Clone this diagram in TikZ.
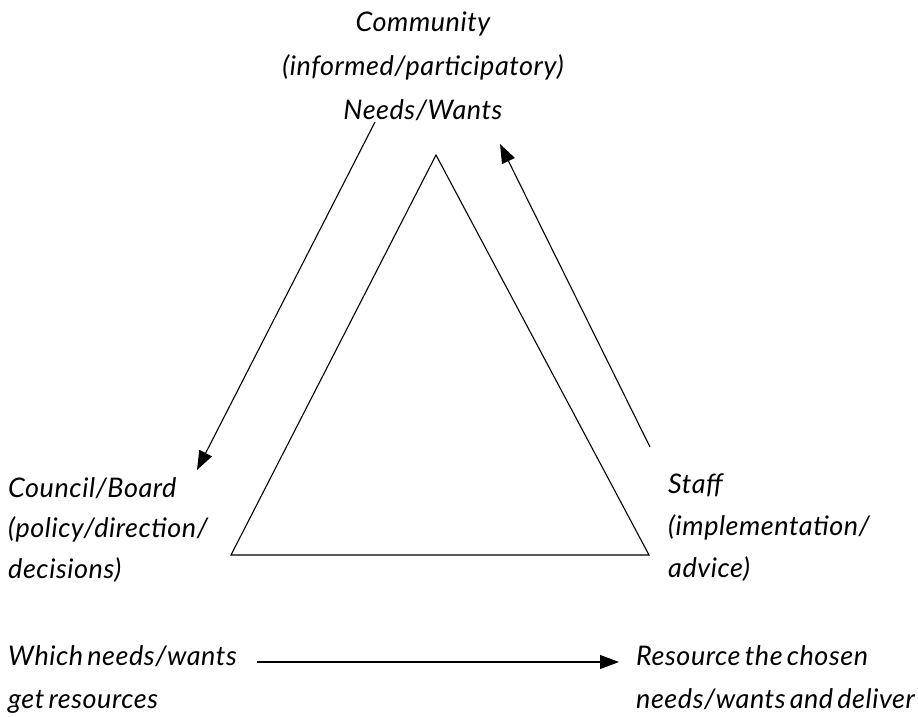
\documentclass[tikz,border=0pt]{standalone}
\usepackage{fontspec}
\setmainfont{Lato}[LetterSpace=2.0,WordSpace=0.6]
\usetikzlibrary{arrows.meta}
\begin{document}
\begin{tikzpicture}[x=1pt,y=-1pt,
  label/.style={font=\itshape\fontsize{27}{42}\selectfont, inner sep=0pt, align=left},
  edge/.style={line width=1.1pt},
  flow/.style={line width=1.1pt, -{Triangle[length=19pt,width=14pt]}}]
\useasboundingbox (0,0) rectangle (918,717);

% the triangle
\coordinate (apex) at (436,155);
\coordinate (bl) at (231,555);
\coordinate (br) at (649,555);
\draw[edge, line join=miter] (apex) -- (bl) -- (br) -- cycle;

% labels (anchored at the baseline of their last line)
\node[label, align=center, anchor=base, font=\itshape\fontsize{27}{44}\selectfont] (community) at (423,119)
  {Community\\(informed/participatory)\\Needs/Wants};
\node[label, anchor=base west, font=\itshape\fontsize{27}{40.5}\selectfont] (council) at (8,578)
  {Council/Board\\(policy/direction/\\decisions)};
\node[label, anchor=base west] (staff) at (668,577)
  {Staff\\(implementation/\\advice)};
\node[label, anchor=base west, font=\itshape\fontsize{27}{43}\selectfont] (which) at (8,708)
  {Which needs/wants\\get resources};
\node[label, anchor=base west, font=\itshape\fontsize{27}{43}\selectfont] (resource) at (636,708)
  {Resource the chosen\\needs/wants and deliver};

% flows around the triangle
\coordinate (c1) at (375,122);
\coordinate (c2) at (197,470);
\coordinate (s1) at (650,447);
\coordinate (s2) at (500,144);
\coordinate (w1) at (257,662);
\coordinate (w2) at (619,662);
\draw[flow] (c1) -- (c2);
\draw[flow] (s1) -- (s2);
\draw[flow] (w1) -- (w2);
\end{tikzpicture}
\end{document}
